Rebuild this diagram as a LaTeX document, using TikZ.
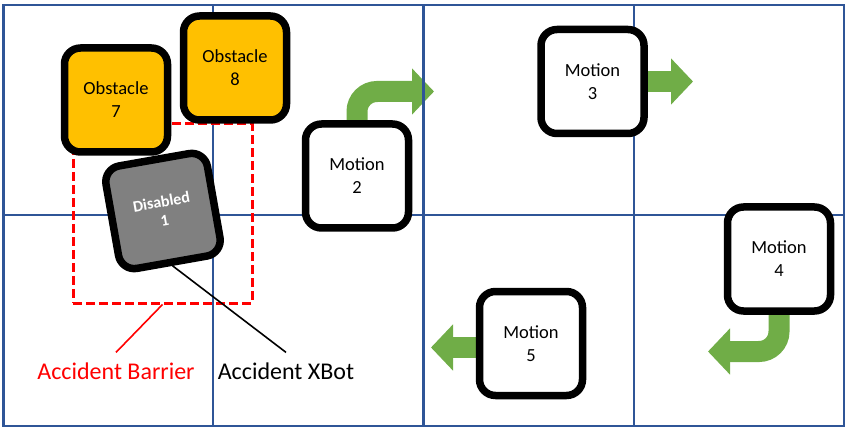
\documentclass[tikz,border=0pt]{standalone}
\usepackage{fontspec}
\setmainfont{Carlito}
\usetikzlibrary{arrows.meta,backgrounds}

\definecolor{gridblue}{HTML}{2F5597}
\definecolor{obstorange}{HTML}{FFC000}
\definecolor{mvgreen}{HTML}{70AD47}

\begin{document}
\begin{tikzpicture}[x=1pt,y=-1pt,
  bot/.style={draw,line width=7.5pt,rounded corners=16pt,minimum width=103pt,minimum height=104pt,align=center,fill=white,font=\fontsize{18.5}{23}\selectfont},
  obstbot/.style={bot,fill=obstorange},
  deadbot/.style={bot,fill=gray,text=white,font=\bfseries\fontsize{16}{19}\selectfont,rotate=10},
  mv/.style={mvgreen,line width=21pt,rounded corners=20pt,-{Triangle[length=22pt,width=45pt]}},
  lbl/.style={font=\fontsize{24}{28}\selectfont,inner sep=10pt}]
  \useasboundingbox (0,0) rectangle (848,430);

  % accident barrier
  \node[draw=red,line width=3pt,dash pattern=on 9pt off 4pt,minimum width=179pt,minimum height=179pt,inner sep=0pt] (bar) at (162.5,213.5) {};

  % robots
  \node[obstbot] (o7) at (116,100) {Obstacle\\7};
  \node[obstbot] (o8) at (235,68) {Obstacle\\8};
  \node[deadbot] (d1) at (163,211) {Disabled\\1};
  \node[bot] (m2) at (357,176) {Motion\\2};
  \node[bot] (m3) at (592.5,81.5) {Motion\\3};
  \node[bot] (m4) at (779,259) {Motion\\4};
  \node[bot] (m5) at (531,343.5) {Motion\\5};

  % labels
  \node[lbl,text=red] (lbar) at (116,371) {Accident Barrier};
  \node[lbl] (lxbot) at (286,371) {Accident XBot};
  \draw[red,line width=1.6pt] (bar.south) -- (lbar.north);
  \draw[line width=1.6pt] (d1.south) -- (lxbot.north);

  \begin{scope}[on background layer]
    \coordinate (t2) at (434,91.5);
    \coordinate (t3) at (693,81.5);
    \coordinate (t4) at (708,351.5);
    \coordinate (t5) at (431,347.5);
    \draw[mv] (m2.north) |- (t2);
    \draw[mv] (m3.east) -- (t3);
    \draw[mv] (m4.south) |- (t4);
    \draw[mv] (m5.west |- t5) -- (t5);
    % grid
    \draw[gridblue,line width=2.2pt] (3.5,5) rectangle (844,426);
    \draw[gridblue,line width=2.2pt] (3.5,215) -- (844,215);
    \foreach \gx in {213,423.5,634}
      \draw[gridblue,line width=2.2pt] (\gx,5) -- (\gx,426);
  \end{scope}
\end{tikzpicture}
\end{document}
